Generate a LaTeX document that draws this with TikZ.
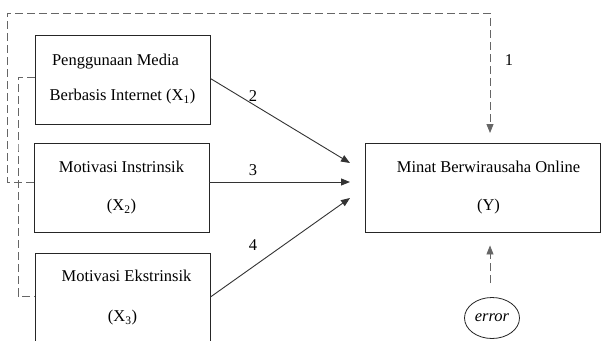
\documentclass[tikz,border=0pt]{standalone}
\usepackage{fontspec}
\setmainfont{Liberation Serif}
\usetikzlibrary{arrows.meta,shapes.geometric,calc}
\begin{document}
\begin{tikzpicture}[x=1pt,y=-1pt,
  box/.style={draw=black!85, line width=0.9pt, rectangle, minimum width=175pt, minimum height=89pt, align=center, inner sep=0pt, font=\fontsize{16.5}{20}\selectfont},
  solidarrow/.style={draw=black!80, line width=0.9pt, -{Triangle[length=9pt,width=7pt]}},
  dashline/.style={draw=black!60, line width=0.9pt, dash pattern=on 8pt off 4pt},
  lbl/.style={font=\fontsize{16.5}{20}\selectfont, inner sep=0pt}]
\useasboundingbox (0,0) rectangle (601,340);
\fill[white] (0,0) rectangle (601,340);
% boxes
\node[box] (x1) at (122.5,79.5) {Penggunaan Media\hspace*{14pt}\\[15pt]Berbasis Internet (X\textsubscript{1})};
\node[box] (x2) at (121.5,187.5) {Motivasi Instrinsik\\[18pt](X\textsubscript{2})};
\node[box, minimum height=90pt] (x3) at (122.5,298) {\hspace*{8pt}Motivasi Ekstrinsik\\[20pt](X\textsubscript{3})};
\node[box, minimum width=235pt] (y) at (482.5,187.5) {\hspace*{12pt}Minat Berwirausaha Online\\[18pt]\hspace*{12pt}(Y)};
\node[draw=black!85, line width=0.8pt, ellipse, minimum width=55pt, minimum height=41pt, inner sep=0pt, font=\fontsize{16.5}{20}\selectfont\itshape] (err) at (492,318) {error};
% arrow targets
\coordinate (t1) at (350,163);
\coordinate (t2) at (350,182);
\coordinate (t3) at (350,198);
\coordinate (ttop) at (490,133);
% solid arrows
\draw[solidarrow] ($(x1.east)+(0,-1)$) -- (t1);
\draw[solidarrow] ($(x2.east)+(0,-5.5)$) -- (t2);
\draw[solidarrow] ($(x3.east)+(0,-1)$) -- (t3);
% labels
\node[lbl] (l2) at (253,96) {2};
\node[lbl] (l3) at (253,170) {3};
\node[lbl] (l4) at (253,245) {4};
\node[lbl] (l1) at (509,60) {1};
% dashed connectors
\draw[dashline, -{Triangle[length=9pt,width=7pt]}] ($(x2.west)+(0,-5.5)$) -| (7,13) -| (ttop);
\draw[dashline] ($(x1.west)+(0,-2.5)$) -| (18,150) |- ($(x3.west)+(0,-2)$);
\draw[dashline, -{Triangle[length=9pt,width=7pt]}, shorten <=14pt, shorten >=13pt] ($(err.north)+(-2,0)$) -- ($(y.south)+(7.5,0)$);
\end{tikzpicture}
\end{document}
